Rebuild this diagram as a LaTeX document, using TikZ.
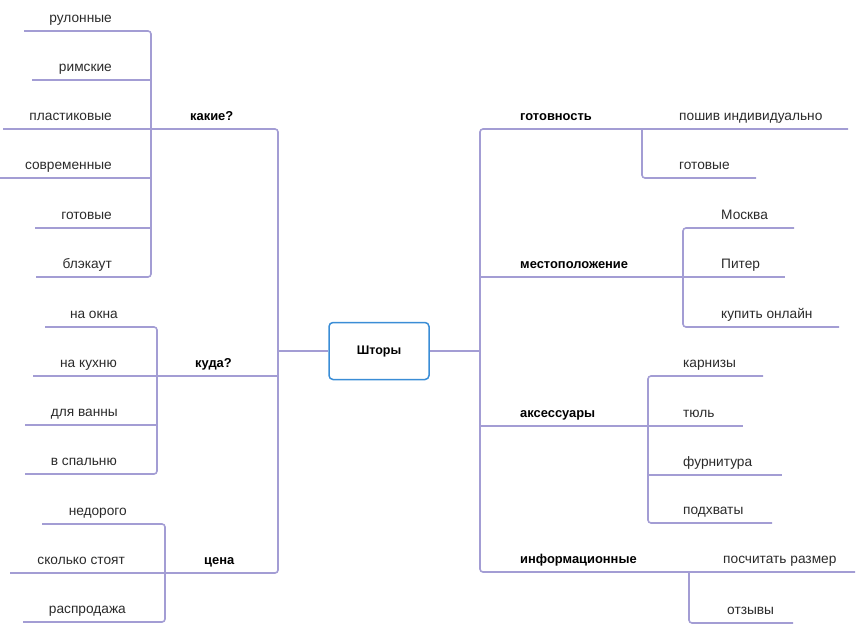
\documentclass[tikz,border=0pt]{standalone}
\usepackage{fontspec}
\setmainfont{Liberation Sans}
\definecolor{brc}{HTML}{A39DD4}
\definecolor{boxb}{HTML}{3A8DD6}
\definecolor{txt}{HTML}{2A2A2A}
\tikzset{
  conn/.style={draw=brc, line width=1.6pt, rounded corners=3pt},
  leaf/.style={font=\fontsize{13.7}{16}\selectfont, text=txt, inner sep=0pt},
  branch/.style={font=\fontsize{12.9}{15}\selectfont\bfseries, text=black, inner sep=0pt},
  rootbox/.style={draw=boxb, line width=1.5pt, rounded corners=4pt, minimum width=100pt,
    minimum height=57pt, fill=white,
    font=\fontsize{12.5}{15}\selectfont\bfseries, text=black},
}
\begin{document}
\begin{tikzpicture}[x=1pt,y=-1pt]
\useasboundingbox (0,0) rectangle (856,629);

% root
\node[rootbox] (root) at (379,351) {Шторы};

% ---------- coordinates: left side ----------
\coordinate (LJ) at (278,351);
\coordinate (RJ) at (480,351);
\coordinate (kS) at (3,129);   \coordinate (kC) at (278,129);
\coordinate (cC) at (278,573); \coordinate (cS) at (10,573);
\coordinate (dS) at (33,376);  \coordinate (dE) at (278,376);
% какие sub
\coordinate (k1s) at (24,31);  \coordinate (k1c) at (151,31);
\coordinate (k6c) at (151,277);\coordinate (k6s) at (36,277);
\coordinate (k2s) at (32,80);  \coordinate (k2e) at (151,80);
\coordinate (k4s) at (0,178);  \coordinate (k4e) at (151,178);
\coordinate (k5s) at (35,228); \coordinate (k5e) at (151,228);
% куда sub
\coordinate (d1s) at (45,327); \coordinate (d1c) at (157,327);
\coordinate (d4c) at (157,474);\coordinate (d4s) at (25,474);
\coordinate (d3s) at (25,425); \coordinate (d3e) at (157,425);
% цена sub
\coordinate (c1s) at (42,524); \coordinate (c1c) at (165,524);
\coordinate (c3c) at (165,622);\coordinate (c3s) at (23,622);

% ---------- coordinates: right side ----------
\coordinate (gE) at (848,129); \coordinate (gC) at (480,129);
\coordinate (iC) at (480,572); \coordinate (iE) at (855,572);
\coordinate (mS) at (480,277); \coordinate (mE) at (785,277);
\coordinate (aS) at (480,426); \coordinate (aE) at (743,426);
% готовность sub
\coordinate (g2t) at (642,129); \coordinate (g2c) at (642,178); \coordinate (g2e) at (756,178);
% местоположение sub
\coordinate (m1e) at (794,228); \coordinate (m1c) at (683,228);
\coordinate (m3c) at (683,327); \coordinate (m3e) at (839,327);
% аксессуары sub
\coordinate (a1e) at (763,376); \coordinate (a1c) at (648,376);
\coordinate (a4c) at (648,523); \coordinate (a4e) at (772,523);
\coordinate (a3s) at (648,475); \coordinate (a3e) at (782,475);
% информационные sub
\coordinate (i2t) at (689,572); \coordinate (i2c) at (689,623); \coordinate (i2e) at (793,623);

% ---------- connectors ----------
\draw[conn] (kS) -- (kC) -- (cC) -- (cS);
\draw[conn] (dS) -- (dE);
\draw[conn] (k1s) -- (k1c) -- (k6c) -- (k6s);
\draw[conn] (k2s) -- (k2e);
\draw[conn] (k4s) -- (k4e);
\draw[conn] (k5s) -- (k5e);
\draw[conn] (d1s) -- (d1c) -- (d4c) -- (d4s);
\draw[conn] (d3s) -- (d3e);
\draw[conn] (c1s) -- (c1c) -- (c3c) -- (c3s);

\draw[conn] (gE) -- (gC) -- (iC) -- (iE);
\draw[conn] (mS) -- (mE);
\draw[conn] (aS) -- (aE);
\draw[conn] (g2t) -- (g2c) -- (g2e);
\draw[conn] (m1e) -- (m1c) -- (m3c) -- (m3e);
\draw[conn] (a1e) -- (a1c) -- (a4c) -- (a4e);
\draw[conn] (a3s) -- (a3e);
\draw[conn] (i2t) -- (i2c) -- (i2e);

\draw[conn] (LJ) -- (root.west);
\draw[conn] (root.east) -- (RJ);

% ---------- labels: left ----------
\node[leaf, anchor=base east] (t1) at (112,22)  {рулонные};
\node[leaf, anchor=base east] (t2) at (112,71)  {римские};
\node[leaf, anchor=base east] (t3) at (112,120) {пластиковые};
\node[leaf, anchor=base east] (t4) at (112,169) {современные};
\node[leaf, anchor=base east] (t5) at (112,219) {готовые};
\node[leaf, anchor=base east] (t6) at (112,268) {блэкаут};
\node[branch, anchor=base west] (bk) at (190,120) {какие?};

\node[leaf, anchor=base east] (u1) at (118,318) {на окна};
\node[leaf, anchor=base east] (u2) at (117,367) {на кухню};
\node[leaf, anchor=base east] (u3) at (118,416) {для ванны};
\node[leaf, anchor=base east] (u4) at (117,465) {в спальню};
\node[branch, anchor=base west] (bd) at (195,367) {куда?};

\node[leaf, anchor=base east] (p1) at (127,515) {недорого};
\node[leaf, anchor=base east] (p2) at (125,564) {сколько стоят};
\node[leaf, anchor=base east] (p3) at (126,613) {распродажа};
\node[branch, anchor=base west] (bc) at (204,564) {цена};

% ---------- labels: right ----------
\node[branch, anchor=base west] (bg) at (520,120) {готовность};
\node[leaf, anchor=base west] (r1) at (679,120) {пошив индивидуально};
\node[leaf, anchor=base west] (r2) at (679,169) {готовые};

\node[branch, anchor=base west] (bm) at (520,268) {местоположение};
\node[leaf, anchor=base west] (r3) at (721,219) {Москва};
\node[leaf, anchor=base west] (r4) at (721,268) {Питер};
\node[leaf, anchor=base west] (r5) at (721,318) {купить онлайн};

\node[branch, anchor=base west] (ba) at (520,417) {аксессуары};
\node[leaf, anchor=base west] (r6) at (683,367) {карнизы};
\node[leaf, anchor=base west] (r7) at (683,417) {тюль};
\node[leaf, anchor=base west] (r8) at (683,466) {фурнитура};
\node[leaf, anchor=base west] (r9) at (683,514) {подхваты};

\node[branch, anchor=base west] (bi) at (520,563) {информационные};
\node[leaf, anchor=base west] (r10) at (723,563) {посчитать размер};
\node[leaf, anchor=base west] (r11) at (727,614) {отзывы};
\end{tikzpicture}
\end{document}
